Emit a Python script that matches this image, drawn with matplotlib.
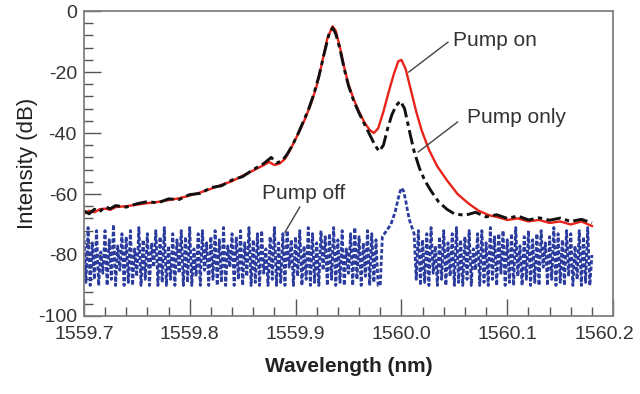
import matplotlib
matplotlib.use("Agg")
import matplotlib.pyplot as plt
import matplotlib.transforms as mtransforms
from matplotlib.ticker import MultipleLocator
import numpy as np

plt.rcParams['font.family'] = ['Liberation Sans', 'DejaVu Sans']
plt.rcParams['axes.unicode_minus'] = False

# -----------------------------
# Data
# -----------------------------
# Pump on (red)
on_wl = [1559.700, 1559.705, 1559.710, 1559.715, 1559.720, 1559.725, 1559.730,
         1559.740, 1559.750, 1559.760, 1559.770, 1559.780, 1559.790, 1559.800,
         1559.810, 1559.820, 1559.830, 1559.840, 1559.850, 1559.860, 1559.870,
         1559.875, 1559.880, 1559.885, 1559.890, 1559.895, 1559.900, 1559.905,
         1559.910, 1559.915, 1559.920, 1559.925, 1559.930, 1559.935, 1559.938,
         1559.942, 1559.946, 1559.950, 1559.955, 1559.960, 1559.965, 1559.970,
         1559.974, 1559.978, 1559.983, 1559.988, 1559.993, 1559.997, 1560.000,
         1560.004, 1560.009, 1560.014, 1560.019, 1560.026, 1560.034, 1560.043,
         1560.053, 1560.063, 1560.073, 1560.083, 1560.090, 1560.100, 1560.110,
         1560.120, 1560.130, 1560.140, 1560.150, 1560.160, 1560.170, 1560.180]
on_db = [-66.5, -65.5, -66.0, -65.0, -64.8, -65.2, -64.3,
         -64.0, -63.5, -63.0, -62.6, -62.0, -61.4, -60.5,
         -59.5, -58.3, -57.0, -55.8, -54.0, -52.3, -50.5,
         -49.5, -50.5, -50.0, -48.5, -45.5, -42.0, -38.5,
         -34.5, -30.0, -24.5, -17.0, -9.0, -5.0, -6.5,
         -12.0, -18.5, -24.0, -29.0, -33.0, -36.5, -39.0,
         -40.0, -38.5, -33.0, -26.5, -20.5, -16.5, -16.0,
         -19.0, -26.0, -33.0, -39.0, -45.5, -51.0, -55.5,
         -60.0, -63.0, -65.5, -67.0, -67.5, -68.5, -68.0,
         -69.0, -68.5, -69.5, -69.0, -70.0, -69.0, -70.5]

# Pump only (black)
only_wl = [1559.700, 1559.705, 1559.710, 1559.715, 1559.720, 1559.725, 1559.730,
           1559.740, 1559.750, 1559.760, 1559.770, 1559.780, 1559.790, 1559.800,
           1559.810, 1559.820, 1559.830, 1559.840, 1559.850, 1559.860, 1559.870,
           1559.877, 1559.882, 1559.887, 1559.892, 1559.897, 1559.902, 1559.907,
           1559.912, 1559.917, 1559.922, 1559.927, 1559.932, 1559.935, 1559.938,
           1559.942, 1559.946, 1559.950, 1559.955, 1559.960, 1559.965, 1559.970,
           1559.975, 1559.979, 1559.983, 1559.987, 1559.991, 1559.995, 1559.999,
           1560.003, 1560.008, 1560.012, 1560.017, 1560.022, 1560.028, 1560.035,
           1560.043, 1560.050, 1560.060, 1560.070, 1560.080, 1560.090, 1560.100,
           1560.110, 1560.120, 1560.130, 1560.140, 1560.150, 1560.160, 1560.170,
           1560.180]
only_db = [-65.5, -66.5, -65.0, -65.8, -64.2, -64.8, -63.8,
           -64.3, -63.2, -62.5, -62.9, -61.6, -61.8, -60.2,
           -59.8, -57.9, -57.3, -55.4, -54.3, -52.0, -50.0,
           -48.0, -49.8, -49.2, -47.0, -44.0, -40.5, -36.5,
           -32.5, -27.5, -21.5, -14.0, -7.0, -5.5, -7.5,
           -12.5, -19.0, -24.5, -29.5, -33.5, -37.0, -40.5,
           -44.0, -46.0, -44.0, -38.5, -34.0, -31.0, -29.5,
           -32.0, -40.0, -46.0, -51.5, -55.5, -59.0, -62.5,
           -65.0, -66.5, -67.0, -66.0, -67.5, -66.8, -68.0,
           -67.2, -68.5, -67.8, -68.6, -67.9, -69.0, -68.3,
           -69.5]

# Pump off (blue), OSA grid 1559.700 .. 1560.180 nm, step 0.002 nm
off_start, off_step = 1559.700, 0.002
off_db = [-73, -89, -71, -90, -76, -88, -72, -90, -79, -86,
          -72, -90, -75, -88, -70, -90, -77, -85, -73, -90,
          -74, -89, -72, -90, -78, -87, -71, -90, -75, -88,
          -73, -90, -76, -84, -72, -90, -74, -89, -71, -90,
          -77, -88, -73, -90, -75, -86, -72, -90, -74, -89,
          -71, -90, -78, -87, -73, -90, -72, -85, -76, -90,
          -74, -88, -72, -90, -75, -89, -71, -90, -77, -84,
          -73, -90, -74, -88, -72, -90, -76, -87, -71, -90,
          -75, -89, -73, -90, -72, -86, -78, -90, -74, -88,
          -71, -90, -76, -89, -73, -90, -72, -84, -75, -90,
          -74, -87, -72, -90, -77, -88, -71, -90, -73, -89,
          -76, -90, -72, -85, -74, -90, -73, -88, -71, -90,
          -75, -89, -72, -90, -78, -86, -73, -90, -71, -88,
          -74, -90, -76, -87, -72, -90, -73, -89, -75, -90,
          -90, -74, -73, -72, -71, -70, -68, -66, -63, -60,
          -58, -59, -62, -66, -69, -71, -73, -88, -72, -90,
          -75, -89, -73, -90, -71, -86, -77, -90, -74, -88,
          -72, -90, -76, -87, -73, -90, -71, -89, -75, -90,
          -74, -88, -72, -90, -78, -85, -73, -90, -72, -89,
          -76, -90, -71, -88, -74, -90, -73, -86, -72, -90,
          -75, -89, -73, -90, -71, -87, -77, -90, -74, -88,
          -72, -90, -75, -89, -73, -90, -72, -84, -76, -90,
          -74, -88, -71, -90, -73, -89, -75, -90, -72, -87,
          -73, -90, -77, -88, -72, -90, -74, -89, -71, -90,
          -80]
off_wl = off_start + off_step * np.arange(len(off_db))

xticks = [1559.7, 1559.8, 1559.9, 1560.0, 1560.1, 1560.2]
xtick_labels = ['1559.7', '1559.8', '1559.9', '1560.0', '1560.1', '1560.2']

# -----------------------------
# Plot
# -----------------------------
fig = plt.figure(figsize=(6.4, 3.94), dpi=100)
ax = fig.add_axes([0.131, 0.198, 0.827, 0.774])

ax.plot(off_wl, off_db, color='#2b3c9e', lw=2.0, ls=(0, (1.5, 0.8)))
ax.plot(on_wl, on_db, color='#e8231a', lw=1.7)
ax.plot(only_wl, only_db, color='#111111', lw=2.1, ls=(0, (5, 1.5, 1.5, 1.5)))

ax.set_xlim(1559.7, 1560.2)
ax.set_ylim(-100, 0)
ax.set_xticks(xticks)
ax.set_xticklabels(xtick_labels)
ax.xaxis.set_minor_locator(MultipleLocator(0.02))
ax.yaxis.set_major_locator(MultipleLocator(20))
ax.yaxis.set_minor_locator(MultipleLocator(4))

ax.tick_params(which='both', direction='in', top=False, right=False,
               color='#555555', width=1.0, labelsize=14, labelcolor='#333333')
ax.tick_params(axis='x', pad=7)
ax.tick_params(axis='y', pad=5)
ax.tick_params(which='major', length=12)
ax.tick_params(which='minor', length=6.5)
for s in ax.spines.values():
    s.set_color('#808080')
    s.set_linewidth(1.3)

# last x label sits a bit left in the original so it fits the frame
last = ax.get_xticklabels()[-1]
last.set_transform(last.get_transform() + mtransforms.ScaledTranslation(-6 / 72, 0, fig.dpi_scale_trans))

ax.set_xlabel('Wavelength (nm)', fontsize=15, fontweight='bold', color='#222222', labelpad=10)
ax.set_ylabel('Intensity (dB)', fontsize=16, color='#222222', labelpad=0)

# labels with leader lines
lc = '#444444'
ax.plot([1560.044, 1560.007], [-10.2, -20.0], color=lc, lw=1.0)
ax.text(1560.049, -9.5, 'Pump on', fontsize=15, color='#333333', va='center', ha='left')
ax.plot([1560.053, 1560.016], [-36.4, -46.2], color=lc, lw=1.0)
ax.text(1560.062, -35.0, 'Pump only', fontsize=15, color='#333333', va='center', ha='left')
ax.plot([1559.904, 1559.890], [-64.3, -72.5], color=lc, lw=1.0)
ax.text(1559.868, -59.7, 'Pump off', fontsize=15, color='#333333', va='center', ha='left')

fig.savefig('out.png', dpi=100)
